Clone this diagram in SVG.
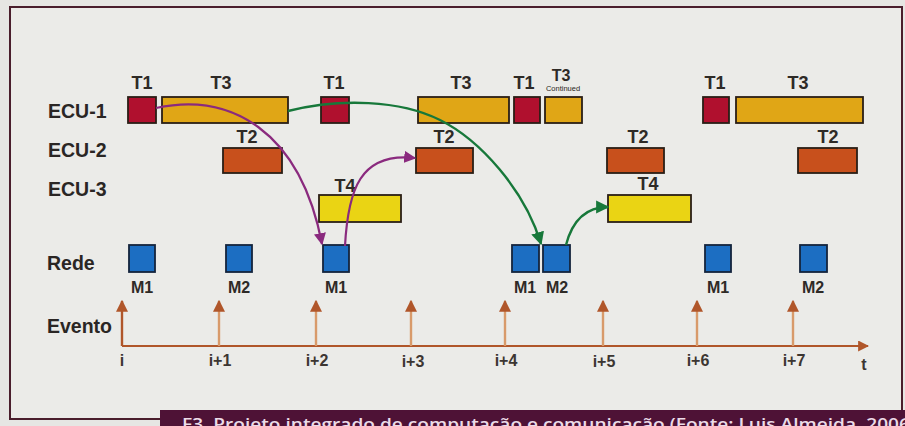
<svg xmlns="http://www.w3.org/2000/svg" width="905" height="426" viewBox="0 0 905 426">
<defs>
<style>
.lbl{font-family:"Liberation Sans",Arial,sans-serif;font-size:19.5px;font-weight:bold;fill:#2a2624}
.tl{font-family:"Liberation Sans",Arial,sans-serif;font-size:18px;font-weight:bold;fill:#2e2a26;text-anchor:middle}
.ml{font-family:"Liberation Sans",Arial,sans-serif;font-size:16px;font-weight:bold;fill:#2e2a26;text-anchor:middle}
.el{font-family:"Liberation Sans",Arial,sans-serif;font-size:16px;font-weight:bold;fill:#3c3632;text-anchor:middle}
.box{stroke:#2a1e16;stroke-width:1.8}
.t1{fill:#b0102e}
.t3{fill:#e0a616}
.t2{fill:#c8501c}
.t4{fill:#ead414}
.msg{fill:#1c6ec2;stroke:#14243c;stroke-width:1.8}
.ev{stroke:#d89a6a;stroke-width:2.4;fill:none}
.pur{stroke:#8a2a7e;stroke-width:2.2;fill:none}
.grn{stroke:#17783a;stroke-width:2.4;fill:none}
</style>
<marker id="ahP" viewBox="0 0 10 10" refX="9" refY="5" markerWidth="5.5" markerHeight="5.5" orient="auto" markerUnits="strokeWidth"><path d="M0,0 L10,5 L0,10 z" fill="#8a2a7e"/></marker>
<marker id="ahG" viewBox="0 0 10 10" refX="9" refY="5" markerWidth="5.5" markerHeight="5.5" orient="auto" markerUnits="strokeWidth"><path d="M0,0 L10,5 L0,10 z" fill="#17783a"/></marker>
<marker id="ahE" viewBox="0 0 10 10" refX="9" refY="5" markerWidth="5" markerHeight="5" orient="auto" markerUnits="strokeWidth"><path d="M0,0 L10,5 L0,10 z" fill="#b0562a"/></marker>
</defs>
<rect x="0" y="0" width="905" height="426" fill="#e6e6e3"/>
<rect x="10" y="7" width="892" height="412" fill="#ebebe8" stroke="#4a1e2c" stroke-width="2"/>

<g id="row-labels">
<text class="lbl" x="48" y="118">ECU-1</text>
<text class="lbl" x="48" y="157">ECU-2</text>
<text class="lbl" x="48" y="196">ECU-3</text>
<text class="lbl" x="47" y="270">Rede</text>
<text class="lbl" x="47" y="333">Evento</text>
</g>

<g id="ecu1">
<g id="ecu1-t1a"><rect class="box t1" x="128" y="97" width="28" height="26"/><text class="tl" x="142" y="89">T1</text></g>
<g id="ecu1-t3a"><rect class="box t3" x="162" y="97" width="126" height="26"/><text class="tl" x="221" y="89">T3</text></g>
<g id="ecu1-t1b"><rect class="box t1" x="321" y="97" width="28" height="26"/><text class="tl" x="334" y="89">T1</text></g>
<g id="ecu1-t3b"><rect class="box t3" x="418" y="97" width="91" height="26"/><text class="tl" x="461" y="89">T3</text></g>
<g id="ecu1-t1c"><rect class="box t1" x="514" y="97" width="26" height="26"/><text class="tl" x="524" y="89">T1</text></g>
<g id="ecu1-t3c"><rect class="box t3" x="545" y="97" width="37" height="26"/><text class="tl" x="561" y="81" style="font-size:16px">T3</text><text x="563" y="91" text-anchor="middle" style="font-family:'Liberation Sans',Arial,sans-serif;font-size:7.5px;fill:#2a2622">Continued</text></g>
<g id="ecu1-t1d"><rect class="box t1" x="703" y="97" width="26" height="26"/><text class="tl" x="715" y="89">T1</text></g>
<g id="ecu1-t3d"><rect class="box t3" x="736" y="97" width="127" height="26"/><text class="tl" x="798" y="89">T3</text></g>
</g>

<g id="ecu2">
<g id="ecu2-t2a"><rect class="box t2" x="223" y="148" width="59" height="25"/><text class="tl" x="247" y="143">T2</text></g>
<g id="ecu2-t2b"><rect class="box t2" x="416" y="148" width="57" height="25"/><text class="tl" x="444" y="143">T2</text></g>
<g id="ecu2-t2c"><rect class="box t2" x="607" y="148" width="57" height="25"/><text class="tl" x="638" y="143">T2</text></g>
<g id="ecu2-t2d"><rect class="box t2" x="798" y="148" width="59" height="25"/><text class="tl" x="828" y="143">T2</text></g>
</g>

<g id="ecu3">
<g id="ecu3-t4a"><rect class="box t4" x="319" y="195" width="82" height="27"/><text class="tl" x="345" y="192">T4</text></g>
<g id="ecu3-t4b"><rect class="box t4" x="608" y="195" width="83" height="27"/><text class="tl" x="648" y="190">T4</text></g>
</g>

<g id="rede">
<g id="msg1"><rect class="msg" x="129" y="245" width="26" height="27"/><text class="ml" x="142" y="293">M1</text></g>
<g id="msg2"><rect class="msg" x="226" y="245" width="26" height="27"/><text class="ml" x="239" y="293">M2</text></g>
<g id="msg3"><rect class="msg" x="323" y="245" width="26" height="27"/><text class="ml" x="336" y="293">M1</text></g>
<g id="msg4"><rect class="msg" x="512" y="245" width="27" height="27"/><text class="ml" x="525" y="293">M1</text></g>
<g id="msg5"><rect class="msg" x="543" y="245" width="27" height="27"/><text class="ml" x="557" y="293">M2</text></g>
<g id="msg6"><rect class="msg" x="705" y="245" width="26" height="27"/><text class="ml" x="718" y="293">M1</text></g>
<g id="msg7"><rect class="msg" x="800" y="245" width="27" height="27"/><text class="ml" x="813" y="293">M2</text></g>
</g>

<g id="time-axis">
<path d="M122,346 H868" stroke="#b0562a" stroke-width="2.2" fill="none" marker-end="url(#ahE)"/>
<path d="M122,346 V301" stroke="#b0562a" stroke-width="2.4" fill="none" marker-end="url(#ahE)"/>
<path class="ev" d="M219,346 V301" marker-end="url(#ahE)"/>
<path class="ev" d="M316,346 V301" marker-end="url(#ahE)"/>
<path class="ev" d="M411,346 V301" marker-end="url(#ahE)"/>
<path class="ev" d="M505,346 V301" marker-end="url(#ahE)"/>
<path class="ev" d="M603,346 V301" marker-end="url(#ahE)"/>
<path class="ev" d="M697,346 V301" marker-end="url(#ahE)"/>
<path class="ev" d="M793,346 V301" marker-end="url(#ahE)"/>
<text class="el" x="122" y="366">i</text>
<text class="el" x="220" y="366">i+1</text>
<text class="el" x="317" y="366">i+2</text>
<text class="el" x="413" y="367">i+3</text>
<text class="el" x="506" y="366">i+4</text>
<text class="el" x="604" y="367">i+5</text>
<text class="el" x="698" y="366">i+6</text>
<text class="el" x="794" y="366">i+7</text>
<text class="el" x="864" y="370">t</text>
</g>

<g id="connectors">
<path class="pur" d="M156,108 C230,92 300,130 322,244" marker-end="url(#ahP)"/>
<path class="pur" d="M345,246 C348,190 360,152 415,158" marker-end="url(#ahP)"/>
<path class="grn" d="M288,111 C340,98 400,100 440,120 C480,140 525,190 541,244" marker-end="url(#ahG)"/>
<path class="grn" d="M566,245 C572,222 585,207 608,207" marker-end="url(#ahG)"/>
</g>

<g id="caption">
<rect x="160" y="410" width="745" height="16" fill="#4e1236"/>
<text x="182" y="430" textLength="734" lengthAdjust="spacingAndGlyphs" style="font-family:'Open Sans','Liberation Sans',sans-serif;font-size:17px;font-weight:600;fill:#ecdce8">F3. Projeto integrado de computação e comunicação (Fonte: Luis Almeida, 2006)</text>
</g>
</svg>
